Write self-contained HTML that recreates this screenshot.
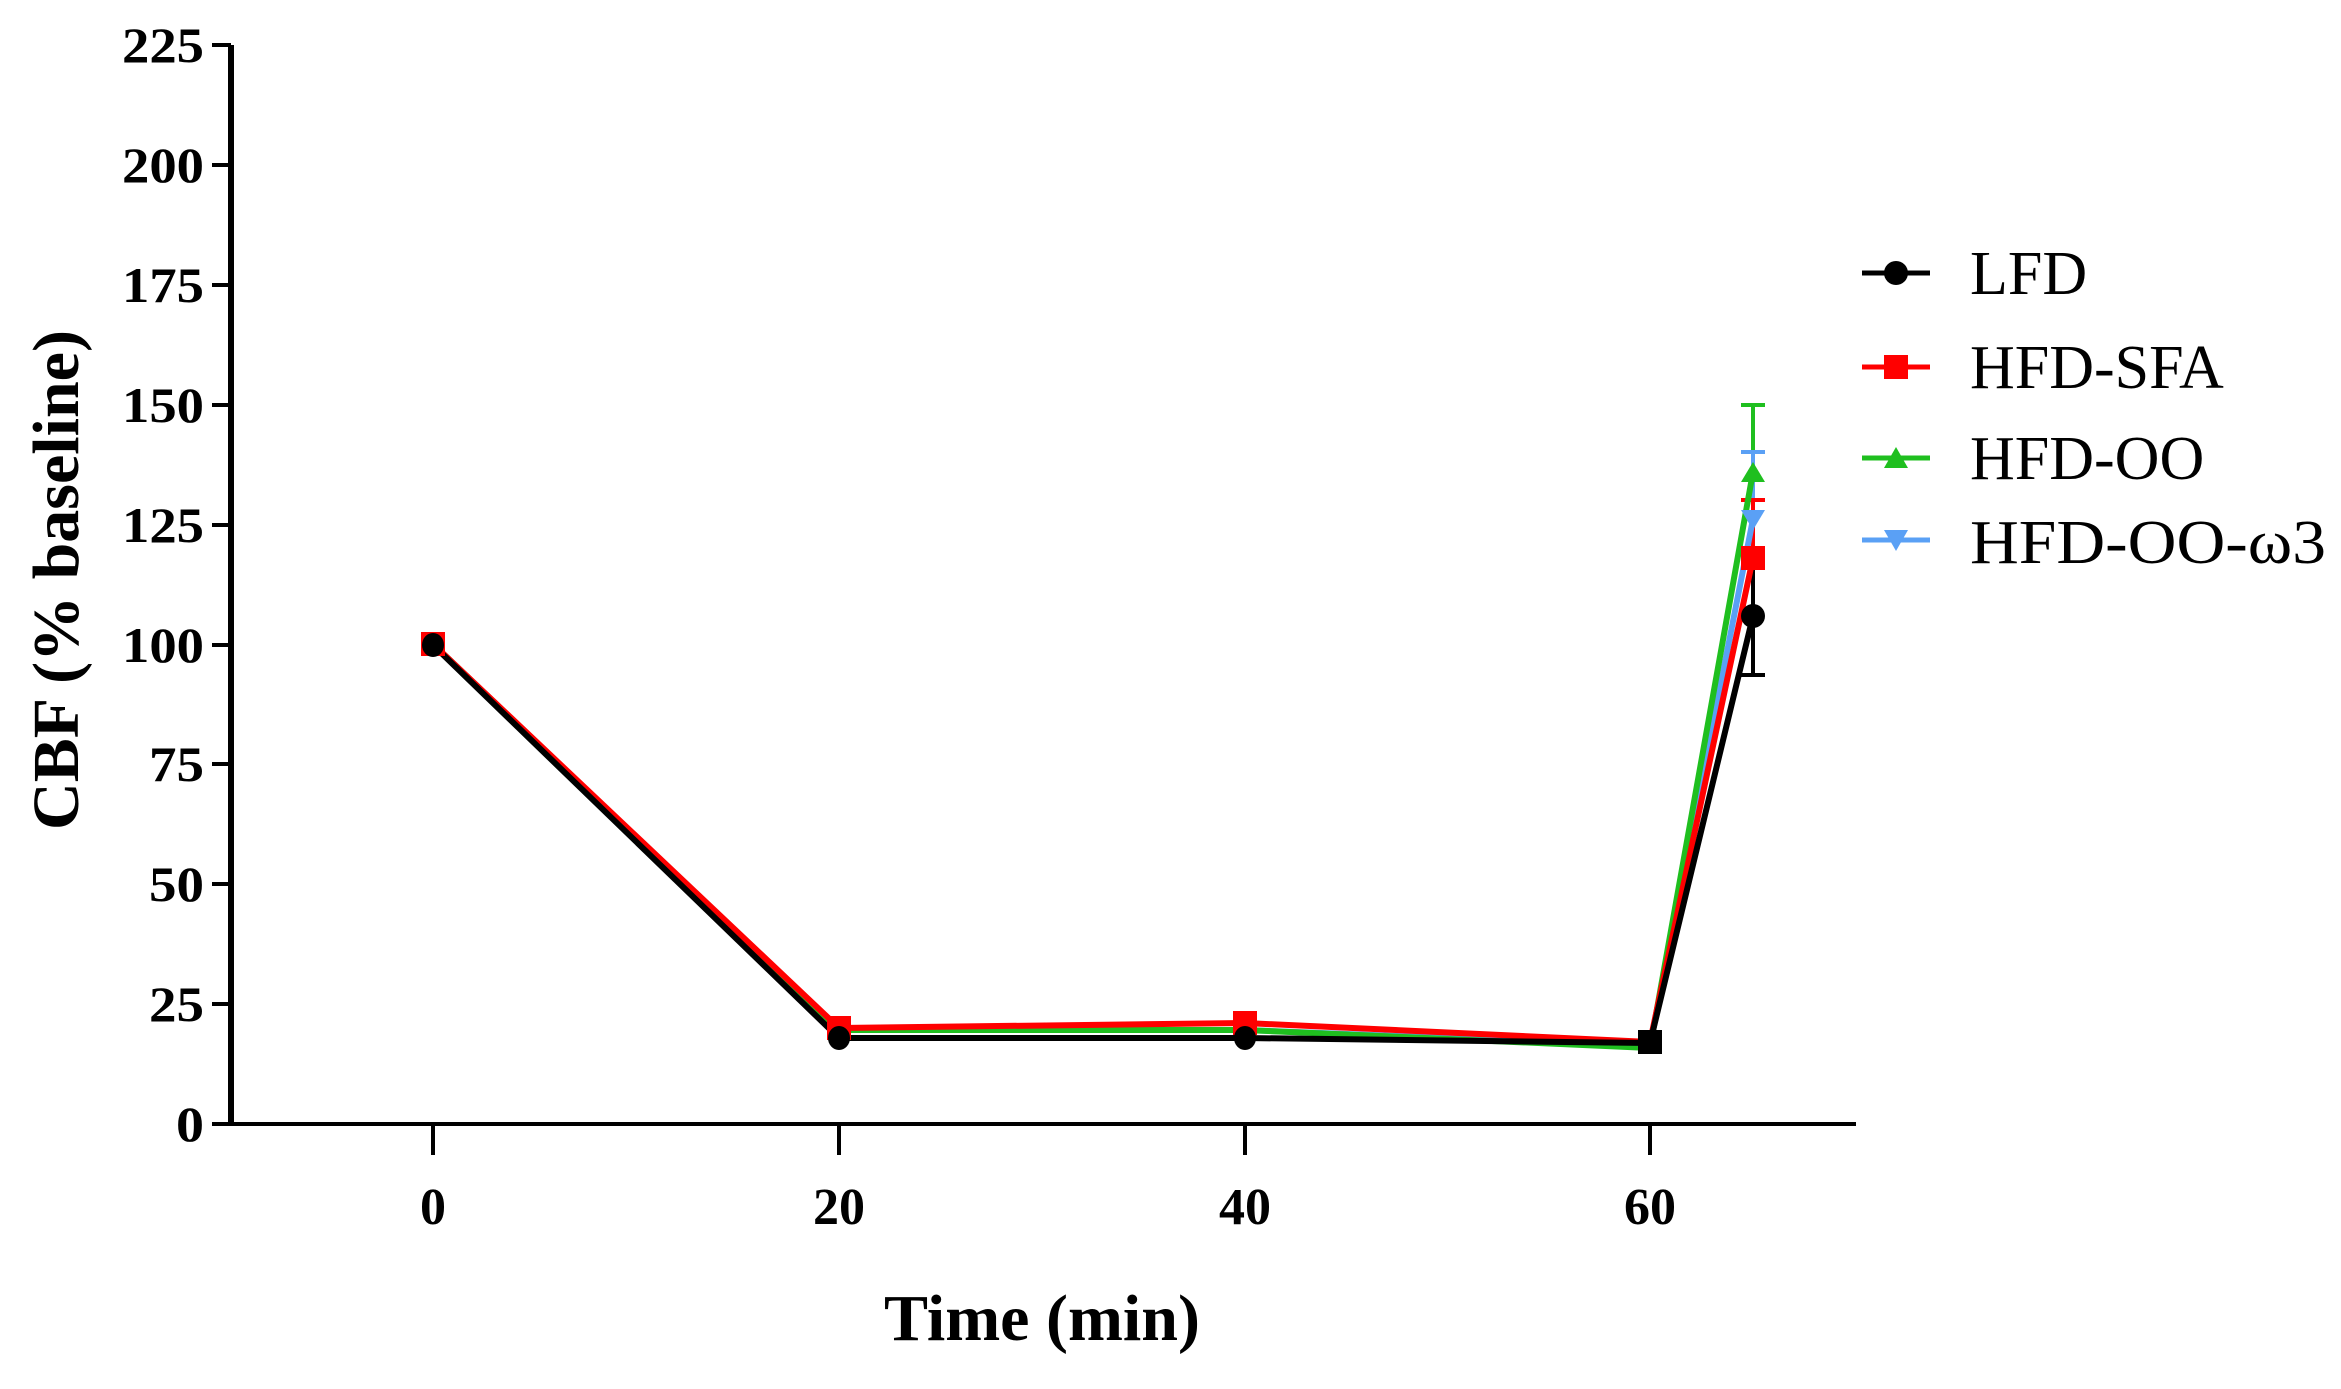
<!DOCTYPE html>
<html><head><meta charset="utf-8"><style>
html,body{margin:0;padding:0;background:#fff;}
svg{display:block;}
text{font-family:"Liberation Serif",serif;}
</style></head><body>
<svg width="2341" height="1389" viewBox="0 0 2341 1389" xmlns="http://www.w3.org/2000/svg">
<line x1="231" y1="45" x2="231" y2="1126" stroke="#000" stroke-width="6"/>
<line x1="228" y1="1124" x2="1856" y2="1124" stroke="#000" stroke-width="4"/>
<g stroke="#000" stroke-width="4">
<line x1="212" y1="45" x2="231" y2="45"/>
<line x1="212" y1="165" x2="231" y2="165"/>
<line x1="212" y1="285" x2="231" y2="285"/>
<line x1="212" y1="405" x2="231" y2="405"/>
<line x1="212" y1="525" x2="231" y2="525"/>
<line x1="212" y1="645" x2="231" y2="645"/>
<line x1="212" y1="764" x2="231" y2="764"/>
<line x1="212" y1="884" x2="231" y2="884"/>
<line x1="212" y1="1004" x2="231" y2="1004"/>
<line x1="212" y1="1124" x2="231" y2="1124"/>
<line x1="433" y1="1124" x2="433" y2="1155"/>
<line x1="839" y1="1124" x2="839" y2="1155"/>
<line x1="1245" y1="1124" x2="1245" y2="1155"/>
<line x1="1650" y1="1124" x2="1650" y2="1155"/>
</g>
<g font-size="50" font-weight="bold" text-anchor="end">
<text x="204" y="62" textLength="82" lengthAdjust="spacingAndGlyphs">225</text>
<text x="204" y="182" textLength="82" lengthAdjust="spacingAndGlyphs">200</text>
<text x="204" y="302" textLength="82" lengthAdjust="spacingAndGlyphs">175</text>
<text x="204" y="422" textLength="82" lengthAdjust="spacingAndGlyphs">150</text>
<text x="204" y="542" textLength="82" lengthAdjust="spacingAndGlyphs">125</text>
<text x="204" y="662" textLength="82" lengthAdjust="spacingAndGlyphs">100</text>
<text x="204" y="781" textLength="55" lengthAdjust="spacingAndGlyphs">75</text>
<text x="204" y="901" textLength="55" lengthAdjust="spacingAndGlyphs">50</text>
<text x="204" y="1021" textLength="55" lengthAdjust="spacingAndGlyphs">25</text>
<text x="204" y="1141" textLength="28" lengthAdjust="spacingAndGlyphs">0</text>
</g>
<g font-size="52" font-weight="bold" text-anchor="middle">
<text x="433" y="1224">0</text>
<text x="839" y="1224">20</text>
<text x="1245" y="1224">40</text>
<text x="1650" y="1224">60</text>
</g>
<text x="1042" y="1340" font-size="66" font-weight="bold" text-anchor="middle">Time (min)</text>
<text transform="translate(78,580) rotate(-90)" font-size="66" font-weight="bold" text-anchor="middle">CBF (% baseline)</text>

<g stroke-width="4">
<line x1="1753" y1="405" x2="1753" y2="540" stroke="#1fbf1f"/><line x1="1741" y1="405" x2="1765" y2="405" stroke="#1fbf1f"/>
<line x1="1741" y1="452" x2="1765" y2="452" stroke="#5aa0f5"/><line x1="1753" y1="452" x2="1753" y2="530" stroke="#5aa0f5"/>
<line x1="1753" y1="500" x2="1753" y2="560" stroke="#ff0000"/><line x1="1741" y1="500" x2="1765" y2="500" stroke="#ff0000"/>
<line x1="1753" y1="560" x2="1753" y2="675" stroke="#000"/>
<line x1="1741" y1="560" x2="1765" y2="560" stroke="#000"/><line x1="1741" y1="675" x2="1765" y2="675" stroke="#000"/>
</g>
<g fill="none" stroke-width="6" stroke-linejoin="round">
<polyline stroke="#5aa0f5" points="433,644 839,1030 1245,1030 1650,1046 1753,519"/>
<polyline stroke="#1fbf1f" points="433,644 839,1030 1245,1030 1650,1048 1753,472"/>
<polyline stroke="#ff0000" points="433,644 839,1028 1245,1023 1650,1042 1753,558"/>
<polyline stroke="#000" points="433,645 839,1038 1245,1038 1650,1043 1753,616"/>
</g>
<polygon points="1741,510 1765,510 1753,530" fill="#5aa0f5"/>
<polygon points="1741,482 1765,482 1753,462" fill="#1fbf1f"/>
<rect x="1741" y="546" width="24" height="24" fill="#ff0000"/>
<rect x="421" y="632" width="24" height="24" fill="#ff0000"/>
<rect x="827" y="1016" width="24" height="24" fill="#ff0000"/>
<rect x="1233" y="1011" width="24" height="24" fill="#ff0000"/>
<rect x="1638" y="1030" width="24" height="24" fill="#000"/>
<g fill="#000">
<ellipse cx="433" cy="645" rx="11" ry="12"/>
<ellipse cx="839" cy="1038" rx="11" ry="12"/>
<ellipse cx="1245" cy="1038" rx="11" ry="12"/>
<ellipse cx="1753" cy="616" rx="12" ry="12"/>
</g>

<g stroke-width="5">
<line x1="1862" y1="273" x2="1930" y2="273" stroke="#000"/>
<line x1="1862" y1="367" x2="1930" y2="367" stroke="#ff0000"/>
<line x1="1862" y1="458" x2="1930" y2="458" stroke="#1fbf1f"/>
<line x1="1862" y1="540" x2="1930" y2="540" stroke="#5aa0f5"/>
</g>
<circle cx="1896" cy="273" r="12" fill="#000"/>
<rect x="1884" y="355" width="24" height="24" fill="#ff0000"/>
<polygon points="1884,468 1908,468 1896,447" fill="#1fbf1f"/>
<polygon points="1884,530 1908,530 1896,551" fill="#5aa0f5"/>
<g font-size="62">
<text x="1970" y="294">LFD</text>
<text x="1970" y="388">HFD-SFA</text>
<text x="1970" y="479">HFD-OO</text>
<text x="1970" y="563" textLength="356" lengthAdjust="spacingAndGlyphs">HFD-OO-ω3</text>
</g>
</svg>
</body></html>
